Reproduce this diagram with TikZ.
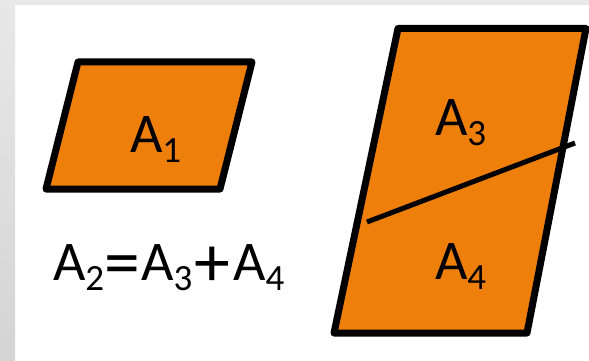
\documentclass[tikz,border=0pt]{standalone}
\usepackage{fontspec}
\usepackage{graphicx}
\setmainfont{Carlito}
\definecolor{fillorange}{RGB}{238,127,10}
\definecolor{frametop}{RGB}{232,232,232}
\definecolor{framebot}{RGB}{212,212,212}
\newcommand{\Sb}[1]{\raisebox{-10pt}{\fontsize{37}{40}\selectfont #1}}
\newcommand{\Op}[2]{\makebox[#1][c]{\raisebox{-6pt}{\scalebox{1.28}{#2}}}}
\begin{document}
\begin{tikzpicture}[x=1pt,y=-1pt,
  shapebox/.style={draw=black,fill=fillorange,line width=7pt,line join=round},
  divider/.style={draw=black,line width=5pt},
  lbl/.style={anchor=base west,inner sep=0pt,outer sep=0pt,font=\fontsize{56}{60}\selectfont}]
\useasboundingbox (0,0) rectangle (589,361);
% background frame
\fill[white] (0,0) rectangle (589,361);
\shade[top color=frametop,bottom color=framebot] (0,0) rectangle (15,361);
\fill[frametop] (15,0) rectangle (589,5);
% small parallelogram
\coordinate (s1) at (78,62);
\coordinate (s2) at (252,62);
\coordinate (s3) at (220,189);
\coordinate (s4) at (46,189);
\path[shapebox] (s1) -- (s2) -- (s3) -- (s4) -- cycle;
% big parallelogram
\coordinate (b1) at (398,28.5);
\coordinate (b2) at (586,28.5);
\coordinate (b3) at (527,333);
\coordinate (b4) at (334,333);
\path[shapebox] (b1) -- (b2) -- (b3) -- (b4) -- cycle;
% divider
\coordinate (d1) at (367,222);
\coordinate (d2) at (575,143);
\draw[divider] (d1) -- (d2);
% labels
\node[lbl] (l1) at (130,152) {A\Sb{1}};
\node[lbl] (l3) at (435,135) {A\Sb{3}};
\node[lbl] (l4) at (435,279) {A\Sb{4}};
\node[lbl] (eq) at (53,280) {A\Sb{2}\Op{37pt}{=}A\Sb{3}\Op{41pt}{+}A\Sb{4}};
\end{tikzpicture}
\end{document}
